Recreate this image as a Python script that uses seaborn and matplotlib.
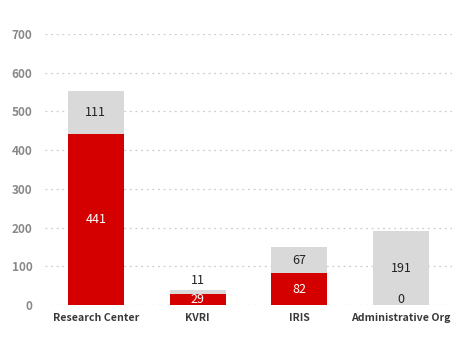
import matplotlib
matplotlib.use("Agg")
import matplotlib.pyplot as plt
import seaborn as sns
import pandas as pd

categories = ["Research Center", "KVRI", "IRIS", "Administrative Org"]
red_values = [441, 29, 82, 0]
gray_values = [111, 11, 67, 191]
y_ticks = [0, 100, 200, 300, 400, 500, 600, 700]

sns.set_theme(style="white")
plt.rcParams["font.family"] = ["Noto Sans CJK KR", "DejaVu Sans"]

RED = "#d40000"
GRAY = "#d9d9d9"

df = pd.DataFrame({"category": categories, "red": red_values, "gray": gray_values})
df["total"] = df["red"] + df["gray"]

fig = plt.figure(figsize=(4.7, 3.4), dpi=100)
ax = fig.add_axes([45 / 470, 35 / 340, 407 / 470, 271 / 340])

sns.barplot(data=df, x="category", y="total", color=GRAY, width=0.55,
            saturation=1, linewidth=0, ax=ax, zorder=2)
sns.barplot(data=df, x="category", y="red", color=RED, width=0.55,
            saturation=1, linewidth=0, ax=ax, zorder=3)

ax.set_ylim(0, 700)
ax.set_xlim(-0.5, 3.5)
ax.set_yticks(y_ticks)
ax.set_xlabel("")
ax.set_ylabel("")
for s in ax.spines.values():
    s.set_visible(False)
ax.grid(axis="y", linestyle=(0, (1.5, 3)), color="#cccccc", linewidth=0.9, zorder=0)
ax.set_axisbelow(True)
ax.tick_params(axis="y", length=0, pad=9, labelsize=8.5, labelcolor="#888888")
ax.tick_params(axis="x", length=0, pad=6, labelsize=7.6, labelcolor="#3a3a3a")
for t in ax.get_yticklabels():
    t.set_fontweight("bold")
for t in ax.get_xticklabels():
    t.set_fontweight("bold")

for i, (r, g) in enumerate(zip(red_values, gray_values)):
    ry = max(r / 2, 15)
    ax.text(i, ry, str(r), ha="center", va="center", fontsize=9,
            color="white" if r > 0 else "#222222", zorder=4)
    gy = r + g / 2
    if g < 40:
        gy = r + g + 22
    ax.text(i, gy, str(g), ha="center", va="center", fontsize=9,
            color="#222222", zorder=4)

fig.savefig("out.png", dpi=100)
